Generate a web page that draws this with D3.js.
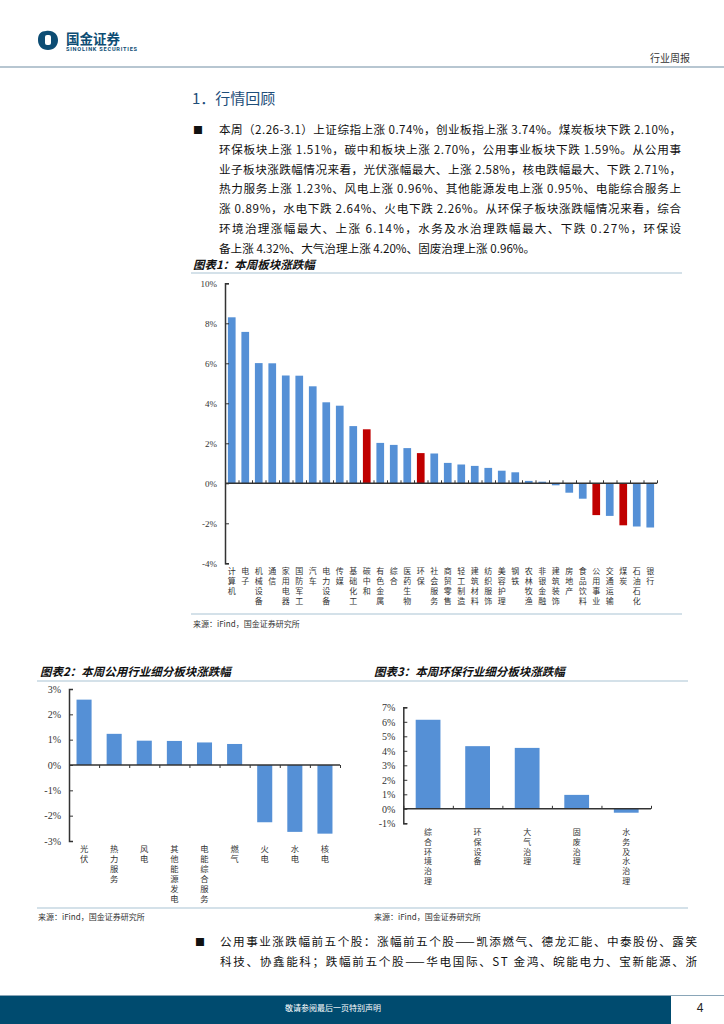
<!DOCTYPE html>
<html>
<head>
<meta charset="utf-8">
<script src="https://cdn.jsdelivr.net/npm/d3@7"></script>
<style>
  body { margin: 0; background: #fff; }
  svg { display: block; }
  .cjk { font-family: "Noto Sans CJK SC", sans-serif; }
  .num { font-family: "Liberation Serif", "DejaVu Serif", serif; }
</style>
</head>
<body>
<svg id="page" width="724" height="1024"></svg>
<script>
// DATA ////////////////////////////////////////
const sectors = ["计算机", "电子", "机械设备", "通信", "家用电器", "国防军工", "汽车", "电力设备",
  "传媒", "基础化工", "碳中和", "有色金属", "综合", "医药生物", "环保", "社会服务", "商贸零售",
  "轻工制造", "建筑材料", "纺织服饰", "美容护理", "钢铁", "农林牧渔", "非银金融", "建筑装饰",
  "房地产", "食品饮料", "公用事业", "交通运输", "煤炭", "石油石化", "银行"];
const sectorChg = [8.30, 7.57, 6.01, 6.00, 5.39, 5.38, 4.85, 4.05, 3.88, 2.86, 2.70, 2.02, 1.92,
  1.76, 1.51, 1.49, 1.02, 0.94, 0.87, 0.77, 0.63, 0.55, 0.12, 0.08, -0.10, -0.47, -0.77, -1.59,
  -1.63, -2.10, -2.16, -2.21];
const highlighted = ["碳中和", "环保", "公用事业", "煤炭"];
const sectorTicks = [-4, -2, 0, 2, 4, 6, 8, 10];

const utilCats = ["光伏", "热力服务", "风电", "其他能源发电", "电能综合服务", "燃气", "火电", "水电", "核电"];
const utilChg = [2.58, 1.23, 0.96, 0.95, 0.89, 0.83, -2.26, -2.64, -2.71];
const utilTicks = [-3, -2, -1, 0, 1, 2, 3];

const envCats = ["综合环境治理", "环保设备", "大气治理", "固废治理", "水务及水治理"];
const envChg = [6.14, 4.32, 4.20, 0.96, -0.27];
const envTicks = [-1, 0, 1, 2, 3, 4, 5, 6, 7];

const para1 = [
  "本周（2.26-3.1）上证综指上涨 0.74%，创业板指上涨 3.74%。煤炭板块下跌 2.10%，",
  "环保板块上涨 1.51%，碳中和板块上涨 2.70%，公用事业板块下跌 1.59%。从公用事",
  "业子板块涨跌幅情况来看，光伏涨幅最大、上涨 2.58%，核电跌幅最大、下跌 2.71%，",
  "热力服务上涨 1.23%、风电上涨 0.96%、其他能源发电上涨 0.95%、电能综合服务上",
  "涨 0.89%，水电下跌 2.64%、火电下跌 2.26%。从环保子板块涨跌幅情况来看，综合",
  "环境治理涨幅最大、上涨 6.14%，水务及水治理跌幅最大、下跌 0.27%，环保设",
  "备上涨 4.32%、大气治理上涨 4.20%、固废治理上涨 0.96%。"
];
const para2 = [
  "公用事业涨跌幅前五个股：涨幅前五个股——凯添燃气、德龙汇能、中泰股份、露笑",
  "科技、协鑫能科；跌幅前五个股——华电国际、ST 金鸿、皖能电力、宝新能源、浙"
];

// DEFINITIONS /////////////////////////////////
const BLUE = "#5590d6";
const RED = "#c00000";
const RULE = "#a9c4d4";
const NAVY = "#004b6f";
const svg = d3.select("#page");

// HEADER //////////////////////////////////////
const logo = svg.append("g").attr("transform", "translate(48, 40)");
logo.append("path")
  .attr("d", "M-2,-9 C6,-10 10,-5 10,0 C10,6 6,10 0,10 C-6,10 -10,6 -10,0 C-10,-6 -7,-9 -2,-9 Z")
  .attr("fill", "#0d4d74");
logo.append("rect").attr("x", -3).attr("y", -5).attr("width", 6).attr("height", 10)
  .attr("rx", 2).attr("fill", "#fff");
svg.append("text").attr("class", "cjk").attr("x", 66).attr("y", 44)
  .attr("font-size", 13.5).attr("font-weight", 700).attr("fill", "#0d4d74").text("国金证券");
svg.append("text").attr("x", 66).attr("y", 51).attr("font-family", "Roboto, sans-serif")
  .attr("font-size", 5.6).attr("font-weight", 700).attr("fill", "#0d4d74")
  .attr("textLength", 71).text("SINOLINK SECURITIES");
svg.append("text").attr("class", "cjk").attr("x", 690).attr("y", 62)
  .attr("text-anchor", "end").attr("font-size", 10).attr("fill", "#333").text("行业周报");
svg.append("line").attr("x1", 0).attr("x2", 724).attr("y1", 67).attr("y2", 67)
  .attr("stroke", "#9fb3c2").attr("stroke-width", 1.5);

// TEXT ////////////////////////////////////////
svg.append("text").attr("class", "cjk").attr("x", 192).attr("y", 104)
  .attr("font-size", 15).attr("fill", "#1e4e79").text("1．行情回顾");

const drawPara = (lines, x, y0, lineH, right, bulletX, justifyLast) => {
  svg.append("text").attr("class", "cjk").attr("x", bulletX).attr("y", y0)
    .attr("font-size", 10).attr("fill", "#111").text("■");
  lines.forEach((t, i) => {
    const txt = svg.append("text").attr("class", "cjk").attr("x", x).attr("y", y0 + i * lineH)
      .attr("font-size", 11.6).attr("fill", "#111").text(t);
    if (i < lines.length - 1 || justifyLast) {
      txt.attr("textLength", right - x).attr("lengthAdjust", "spacing");
    }
  });
};
drawPara(para1, 219, 134, 19.75, 681, 193, false);
drawPara(para2, 220, 945.5, 20, 697, 195, true);

// CHART HELPERS ///////////////////////////////
const chartTitle = (x, y, t) =>
  svg.append("text").attr("class", "cjk").attr("x", x).attr("y", y)
    .attr("font-size", 11.5).attr("font-weight", 700).attr("font-style", "italic")
    .attr("fill", "#111").text(t);
const rule = (x1, x2, y) =>
  svg.append("line").attr("x1", x1).attr("x2", x2).attr("y1", y).attr("y2", y)
    .attr("stroke", RULE).attr("stroke-width", 1.2);
const source = (x, y) =>
  svg.append("text").attr("class", "cjk").attr("x", x).attr("y", y)
    .attr("font-size", 8).attr("fill", "#333").text("来源：iFind，国金证券研究所");

const barChart = (opt) => {
  const { cats, vals, ticks, xr, yr, dom, fs, lfs, lab0, labStep, tickDir, colorOf } = opt;
  const x = d3.scaleBand().domain(cats).range(xr).paddingInner(opt.pad).paddingOuter(opt.pad / 2);
  const y = d3.scaleLinear().domain(dom).range(yr);
  const g = svg.append("g");

  g.selectAll(".bar")
    .data(cats)
    .join("rect")
    .attr("class", "bar")
    .attr("x", (d) => x(d))
    .attr("width", x.bandwidth())
    .attr("y", (d, i) => y(Math.max(0, vals[i])))
    .attr("height", (d, i) => Math.abs(y(vals[i]) - y(0)))
    .attr("fill", (d) => colorOf(d));

  // y axis
  const yAxis = g.append("g")
    .attr("transform", `translate(${xr[0]},0)`)
    .call(d3.axisLeft(y).tickValues(ticks).tickSize(-4).tickPadding(8)
      .tickFormat((d) => d + "%"));
  yAxis.select(".domain").attr("stroke", "#333").attr("stroke-width", 1.5);
  yAxis.selectAll(".tick line").attr("stroke", "#333");
  yAxis.selectAll("text").attr("class", "num").attr("font-size", fs).attr("fill", "#333");

  // category axis at zero
  const bounds = d3.range(cats.length + 1).map((i) => xr[0] + i * x.step());
  const xAxis = g.append("g")
    .attr("transform", `translate(0,${y(0)})`)
    .call(d3.axisBottom(d3.scaleLinear().domain(xr).range(xr))
      .tickValues(bounds).tickSize(tickDir * 3).tickFormat(""));
  xAxis.select(".domain").attr("d", `M${xr[0]},0H${xr[1]}`).attr("stroke", "#333").attr("stroke-width", 1.5);
  xAxis.selectAll(".tick line").attr("stroke", "#333");

  // vertical category labels, one glyph per text
  const glyphs = cats.flatMap((d) =>
    Array.from(d).map((ch, i) => ({ ch, i, cx: x(d) + x.bandwidth() / 2 })));
  g.selectAll(".cat")
    .data(glyphs)
    .join("text")
    .attr("class", "cjk cat")
    .attr("font-size", lfs)
    .attr("fill", "#333")
    .attr("text-anchor", "middle")
    .attr("x", (d) => d.cx)
    .attr("y", (d) => lab0 + lfs * 0.38 + d.i * labStep)
    .text((d) => d.ch);
};

// CHART 1 /////////////////////////////////////
chartTitle(193, 268.5, "图表1：本周板块涨跌幅");
rule(191, 682, 273);
barChart({
  cats: sectors, vals: sectorChg, ticks: sectorTicks,
  xr: [225, 657], yr: [563.3, 283.3], dom: [-4, 10], pad: 0.43, fs: 9, lfs: 8,
  lab0: 570.7, labStep: 10, tickDir: -1,
  colorOf: (d) => (highlighted.includes(d) ? RED : BLUE)
});
rule(191, 682, 614);
source(193, 627);

// CHART 2 & 3 /////////////////////////////////
chartTitle(40, 676, "图表2：本周公用行业细分板块涨跌幅");
chartTitle(374, 676, "图表3：本周环保行业细分板块涨跌幅");
rule(37, 688, 681);
barChart({
  cats: utilCats, vals: utilChg, ticks: utilTicks,
  xr: [69, 340], yr: [841, 689], dom: [-3, 3], pad: 0.5, fs: 10, lfs: 8.3,
  lab0: 849.3, labStep: 10, tickDir: 1,
  colorOf: () => BLUE
});
barChart({
  cats: envCats, vals: envChg, ticks: envTicks,
  xr: [403.3, 651], yr: [823.3, 707.3], dom: [-1, 7], pad: 0.5, fs: 10, lfs: 8,
  lab0: 831.7, labStep: 9.9, tickDir: -1,
  colorOf: () => BLUE
});
rule(37, 688, 908);
source(38, 920);
source(374, 920);

// FOOTER //////////////////////////////////////
svg.append("line").attr("x1", 0).attr("x2", 724).attr("y1", 995.5).attr("y2", 995.5)
  .attr("stroke", "#8aa6b8").attr("stroke-width", 1);
svg.append("rect").attr("x", 0).attr("y", 996).attr("width", 671).attr("height", 28).attr("fill", NAVY);
svg.append("text").attr("class", "cjk").attr("x", 333).attr("y", 1011)
  .attr("text-anchor", "middle").attr("font-size", 8).attr("fill", "#fff").text("敬请参阅最后一页特别声明");
svg.append("text").attr("x", 700).attr("y", 1012).attr("text-anchor", "middle")
  .attr("font-family", "Liberation Sans, sans-serif").attr("font-size", 12).attr("fill", "#222").text("4");
</script>
</body>
</html>
